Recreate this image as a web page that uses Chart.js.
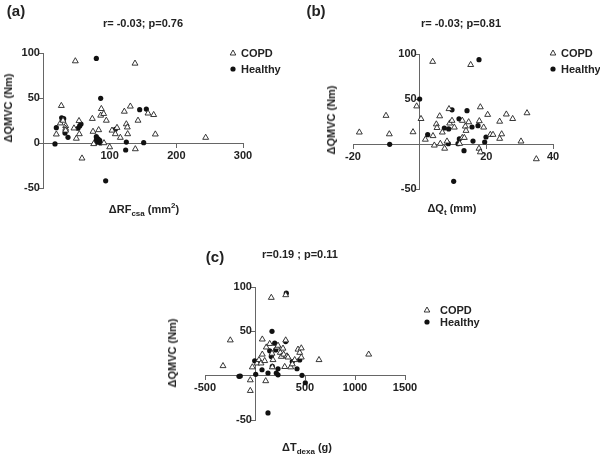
<!DOCTYPE html>
<html>
<head>
<meta charset="utf-8">
<script src="https://cdn.jsdelivr.net/npm/chart.js@4.4.1/dist/chart.umd.min.js"></script>
<style>
  body { margin: 0; background: #fff; }
  #page { position: relative; width: 600px; height: 457px; overflow: hidden;
          font-family: "Liberation Sans", Arial, sans-serif; font-weight: bold; color: #222; }
  .box { position: absolute; }
  .txt { position: absolute; white-space: nowrap; transform: translate(-50%, -50%); font-size: 11px; }
  .panel { font-size: 15px; }
  .ytitle { transform: translate(-50%, -50%) rotate(-90deg); }
  sub { font-size: 8px; vertical-align: -3px; }
  sup { font-size: 8px; vertical-align: 5px; }
</style>
</head>
<body>
<div id="page">
  <div class="box" style="left:0;top:0;width:300px;height:230px"><canvas id="chartA"></canvas></div>
  <div class="box" style="left:300px;top:0;width:300px;height:230px"><canvas id="chartB"></canvas></div>
  <div class="box" style="left:150px;top:230px;width:350px;height:227px"><canvas id="chartC"></canvas></div>

  <div class="txt panel" style="left:16px;top:10px">(a)</div>
  <div class="txt" style="left:143px;top:23px">r= -0.03; p=0.76</div>
  <div class="txt ytitle" style="left:8px;top:108px">&Delta;QMVC (Nm)</div>
  <div class="txt" style="left:144px;top:209px">&Delta;RF<sub>csa</sub> (mm<sup>2</sup>)</div>

  <div class="txt panel" style="left:316px;top:10px">(b)</div>
  <div class="txt" style="left:461px;top:23px">r= -0.03; p=0.81</div>
  <div class="txt ytitle" style="left:331px;top:120px">&Delta;QMVC (Nm)</div>
  <div class="txt" style="left:452px;top:209px">&Delta;Q<sub>t</sub> (mm)</div>

  <div class="txt panel" style="left:215px;top:256px">(c)</div>
  <div class="txt" style="left:300px;top:254px">r=0.19 ; p=0.11</div>
  <div class="txt ytitle" style="left:172px;top:353px">&Delta;QMVC (Nm)</div>
  <div class="txt" style="left:307px;top:448px">&Delta;T<sub>dexa</sub> (g)</div>
</div>
<script>
// ---- data: [x, y] pairs ----
var copdA = [[48.5,91],[138,88.4],[27.5,41.4],[20,9.7],[26,22],[30,25],[34,19],[34,16],[34,14],[46.5,16.4],
  [54,24.6],[54.5,10],[50,5],[58.5,-17],[74,27],[75,12.7],[76,-1],[83.5,14.5],[87.5,38],[86.5,30.6],
  [91,32.5],[95,25],[91.5,0],[100,-4.5],[103.5,14],[108.5,10],[111,17],[116,6],[122,35],[125,21],
  [126.5,17.5],[127,10],[131,40.7],[138.5,-6.7],[142.5,25],[157.5,33],[166,31.3],[168.5,9.7],[244,6]];
var healthyA = [[80,94],[86.5,49.6],[28,28],[31,27],[20,17],[18,-1],[33,11],[37.5,6.3],[52.5,16.4],[55,19],
  [57,21],[80,7],[82.5,4.5],[80,3.4],[85,3],[79,0.4],[86,0],[108.5,15.3],[124,-7.8],[125,1],
  [145,37],[155,37.7],[151,0.4],[94,-42]];

var copdB = [[-18.1,13],[-10.1,31.5],[-9.1,11],[-2,13.3],[-0.9,42],[0.4,28],[3.9,91.5],[1.7,5],[4,9],[4.4,-1.5],
  [6,31],[5,22],[5.2,18],[6.2,0.4],[6.8,13],[7.5,-5],[8.2,3],[8.8,39],[9,23],[9.7,26],
  [10.4,18.5],[12,0.4],[12.8,7],[13.4,7],[12.8,26],[13.7,19.6],[13.9,14.8],[14.7,24.4],[15.3,88],[18.2,41],
  [17.9,25.6],[17.8,-5],[18.2,-9],[19.2,18.5],[20.4,32.6],[21.2,10.4],[22,10.4],[24,25],[24,6],[24.6,11],
  [26,33],[27.9,28],[30.4,3],[32.2,34.4],[35,-16.7]];
var healthyB = [[17.8,93.7],[0,50],[-9,-0.4],[2.4,10.4],[7.4,17.8],[8.7,16.7],[8.6,0.4],[9.7,38],[11.8,28],[11.9,5.6],
  [11.5,0.4],[13.3,-7.4],[14.2,37],[15.7,18.9],[16,3.3],[17.5,20.4],[19.9,7.8],[19.5,2.2],[10.2,-41.5]];

var copdC = [[-320,11],[-247,40],[-47,-5],[-47,-17],[-27,9.6],[20,14],[40,17.8],[60,14],[73,41],[73,24],
  [97,16.7],[107,-6],[113,32],[147,36],[163,88],[170,25],[173,9.6],[180,17.8],[220,32],[230,34],
  [253,26],[263,21.5],[280,30.7],[287,24],[297,10],[307,91],[307,40],[320,22],[330,20.7],[357,9.6],
  [373,13],[397,17.8],[430,29.6],[447,26],[463,31],[463,20.7],[640,17.8],[1137,24]];
var healthyC = [[313,93],[170,50],[-3,16.7],[7,1.5],[-160,-0.7],[-147,-0.5],[70,6.7],[130,3],[147,28],[163,21.5],
  [173,10.4],[197,36.7],[207,29],[230,7.8],[213,3],[230,1],[307,38.5],[373,16],[420,7.8],[447,17.8],
  [470,0.4],[503,-8],[130,-42]];

var seriesNames = ['COPD', 'Healthy'];

var FONT = { family: '"Liberation Sans", Arial, sans-serif', size: 11, weight: 'bold' };
var AXIS = '#666';

function toPoints(arr) {
    return arr.map(function(p) { return { x: p[0], y: p[1] }; });
}

// small legend drawn inside the canvas at a fixed spot
var cornerLegend = {
    id: 'cornerLegend',
    afterDraw: function(chart, args, opts) {
        var ctx = chart.ctx;
        ctx.save();
        ctx.font = 'bold 11px "Liberation Sans", Arial, sans-serif';
        ctx.fillStyle = '#222';
        ctx.textBaseline = 'middle';
        chart.data.datasets.forEach(function(ds, i) {
            var x = opts.x, y = opts.y + i * opts.gap;
            ctx.beginPath();
            if (ds.pointStyle === 'triangle') {
                ctx.moveTo(x, y - 3);
                ctx.lineTo(x + 2.8, y + 2);
                ctx.lineTo(x - 2.8, y + 2);
                ctx.closePath();
                ctx.strokeStyle = '#222';
                ctx.lineWidth = 0.9;
                ctx.stroke();
            } else {
                ctx.arc(x, y, 2.6, 0, Math.PI * 2);
                ctx.fillStyle = '#111';
                ctx.fill();
            }
            ctx.fillStyle = '#222';
            ctx.fillText(ds.label, x + opts.textGap, y + 0.5);
        });
        ctx.restore();
    }
};

function makePanel(canvasId, copd, healthy, cfg) {
    var ctx = document.getElementById(canvasId).getContext('2d');
    return new Chart(ctx, {
        type: 'scatter',
        data: {
            datasets: [
                {
                    label: seriesNames[0],
                    data: toPoints(copd),
                    pointStyle: 'triangle',
                    pointRadius: 3.4,
                    borderWidth: 0.9,
                    borderColor: '#222',
                    backgroundColor: '#fff'
                },
                {
                    label: seriesNames[1],
                    data: toPoints(healthy),
                    pointStyle: 'circle',
                    pointRadius: 2.6,
                    borderWidth: 0,
                    borderColor: '#111',
                    backgroundColor: '#111'
                }
            ]
        },
        options: {
            responsive: true,
            maintainAspectRatio: false,
            animation: false,
            layout: { padding: cfg.pad },
            plugins: {
                legend: { display: false },
                tooltip: { enabled: false },
                cornerLegend: cfg.legend
            },
            scales: {
                x: {
                    type: 'linear',
                    min: cfg.xMin, max: cfg.xMax,
                    position: { y: 0 },
                    afterFit: function(s) { s.height = 0; },
                    grid: { drawOnChartArea: false, tickLength: 4, color: AXIS },
                    border: { color: AXIS, width: 1 },
                    ticks: {
                        stepSize: cfg.xStep, autoSkip: false, maxRotation: 0, padding: 2,
                        color: '#222', font: FONT,
                        callback: function(v) { return cfg.hideX.indexOf(v) >= 0 ? '' : v; }
                    }
                },
                y: {
                    type: 'linear',
                    min: -50, max: 100,
                    position: { x: 0 },
                    afterFit: function(s) { s.width = 0; },
                    grid: { drawOnChartArea: false, tickLength: 4, color: AXIS },
                    border: { color: AXIS, width: 1 },
                    ticks: {
                        stepSize: 50, autoSkip: false,
                        color: '#222', font: FONT,
                        // labels sit on the axis line when the axis is placed by value, so pad with a space
                        callback: function(v) { return cfg.hideY.indexOf(v) >= 0 ? '' : v + ' '; }
                    }
                }
            }
        },
        plugins: [cornerLegend]
    });
}

makePanel('chartA', copdA, healthyA, {
    pad: { left: 43, top: 53, right: 57, bottom: 42 },
    xMin: 0, xMax: 300, xStep: 100, hideX: [0], hideY: [],
    legend: { x: 233, y: 53, gap: 16, textGap: 8 }
});
makePanel('chartB', copdB, healthyB, {
    pad: { left: 53, top: 54, right: 47, bottom: 41 },
    xMin: -20, xMax: 40, xStep: 20, hideX: [0], hideY: [0],
    legend: { x: 253, y: 53, gap: 16, textGap: 8 }
});
makePanel('chartC', copdC, healthyC, {
    pad: { left: 55, top: 57, right: 95, bottom: 37 },
    xMin: -500, xMax: 1500, xStep: 500, hideX: [0], hideY: [0],
    legend: { x: 277, y: 80, gap: 12, textGap: 13 }
});
</script>
</body>
</html>
